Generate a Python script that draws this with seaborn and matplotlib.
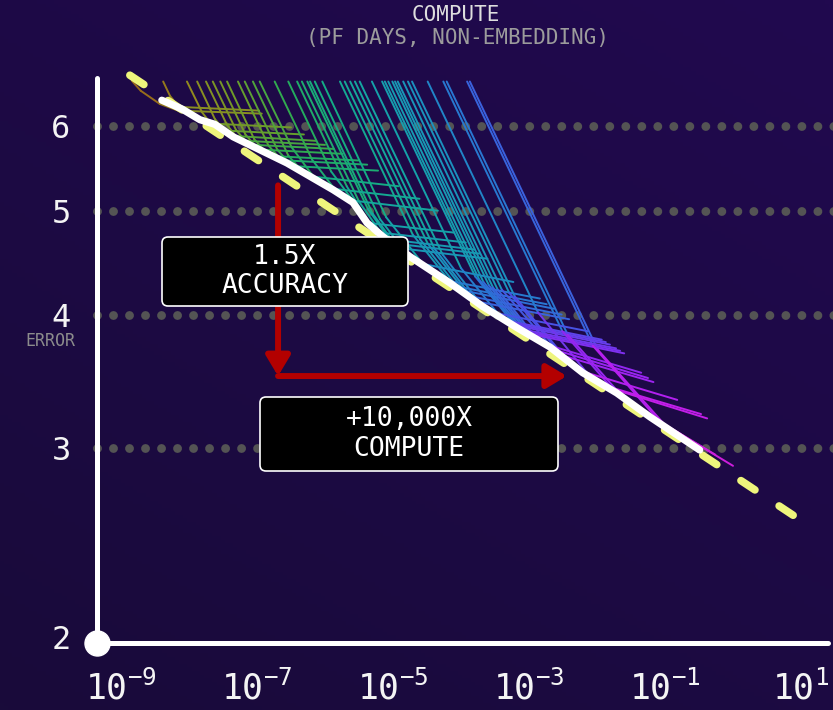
import numpy as np
import pandas as pd
import matplotlib
matplotlib.use("Agg")
import matplotlib.pyplot as plt
import seaborn as sns
from matplotlib.colors import LinearSegmentedColormap
from matplotlib.patches import FancyBboxPatch, FancyArrowPatch
from matplotlib.transforms import IdentityTransform
from matplotlib.ticker import NullLocator

# ---------------- data ----------------
x_tick_values = [1e-9, 1e-7, 1e-5, 1e-3, 1e-1, 1e1]
x_tick_labels = [r"$10^{-9}$", r"$10^{-7}$", r"$10^{-5}$", r"$10^{-3}$", r"$10^{-1}$", r"$10^{1}$"]
y_tick_values = [2, 3, 4, 5, 6]
y_tick_labels = ["2", "3", "4", "5", "6"]
grid_losses = [3, 4, 5, 6]

# white frontier (compute as log10 exponent, loss)
frontier_compute_exp = [-8.40, -8.10, -7.84, -7.62, -7.35, -6.56, -5.88, -5.59, -5.38, -5.15, -4.75,
                        -4.16, -3.68, -3.18, -2.69, -2.21, -1.71, -1.22, -0.49]
frontier_loss = [6.34, 6.22, 6.08, 6.02, 5.86, 5.54, 5.23, 5.09, 4.87, 4.73, 4.53,
                 4.28, 4.07, 3.89, 3.73, 3.53, 3.38, 3.21, 2.99]

# yellow dashed power law
powerlaw_compute = [1.35e-9, 12.6]
powerlaw_loss = [6.69, 2.545]

# learning curves (log10 compute, loss)
curve_compute_exp = [
    [-8.84, -8.71, -8.43, -8.16, -6.93],
    [-8.38, -8.28, -8.15, -6.97],
    [-8.03, -7.81, -7.68, -6.50],
    [-7.88, -7.62, -7.48, -6.31],
    [-7.75, -7.44, -7.31, -6.13],
    [-7.65, -7.31, -7.17, -6.00],
    [-7.54, -7.17, -7.04, -5.87],
    [-7.44, -7.04, -6.90, -5.74],
    [-7.28, -6.83, -6.69, -5.51],
    [-7.18, -6.70, -6.56, -5.38],
    [-7.06, -6.54, -6.40, -5.22],
    [-6.96, -6.49, -6.17, -4.92],
    [-6.74, -6.19, -5.86, -4.61],
    [-6.54, -5.91, -5.59, -4.34],
    [-6.41, -5.68, -5.35, -4.10],
    [-6.34, -5.50, -5.18, -3.93],
    [-6.26, -5.37, -5.05, -3.80],
    [-6.22, -5.30, -4.98, -3.73],
    [-6.15, -5.19, -4.86, -3.61],
    [-6.04, -5.10, -4.56, -3.23],
    [-5.78, -4.71, -4.17, -2.84],
    [-5.71, -4.60, -4.06, -2.74],
    [-5.63, -4.49, -3.95, -2.63],
    [-5.56, -4.39, -3.85, -2.52],
    [-5.49, -4.27, -3.73, -2.41],
    [-5.31, -4.00, -3.46, -2.14],
    [-5.16, -3.79, -3.25, -1.93],
    [-5.12, -3.73, -3.19, -1.87],
    [-5.07, -3.67, -3.13, -1.81],
    [-5.01, -3.59, -3.05, -1.72],
    [-4.97, -3.53, -2.99, -1.66],
    [-4.93, -3.46, -2.93, -1.60],
    [-4.85, -3.40, -2.68, -1.35],
    [-4.78, -3.29, -2.57, -1.25],
    [-4.72, -3.21, -2.49, -1.17],
    [-4.49, -2.87, -2.15, -0.82],
    [-4.26, -2.51, -1.79, -0.47],
    [-4.21, -2.43, -1.71, -0.38],
    [-3.91, -2.06, -1.08, -0.26],
    [-3.87, -1.99, -1.01, 0.00],
]
curve_loss = [
    [6.61, 6.47, 6.29, 6.20, 6.16],
    [6.60, 6.40, 6.25, 6.20],
    [6.60, 6.18, 6.03, 5.98],
    [6.60, 6.09, 5.94, 5.89],
    [6.60, 6.01, 5.87, 5.81],
    [6.60, 5.95, 5.81, 5.76],
    [6.60, 5.89, 5.76, 5.71],
    [6.60, 5.83, 5.70, 5.65],
    [6.60, 5.75, 5.62, 5.57],
    [6.60, 5.70, 5.57, 5.52],
    [6.60, 5.63, 5.50, 5.45],
    [6.60, 5.73, 5.38, 5.27],
    [6.60, 5.58, 5.24, 5.13],
    [6.60, 5.44, 5.11, 5.00],
    [6.60, 5.27, 4.87, 4.77],
    [6.60, 5.10, 4.77, 4.67],
    [6.60, 5.02, 4.70, 4.60],
    [6.60, 4.97, 4.66, 4.56],
    [6.60, 4.91, 4.61, 4.51],
    [6.60, 4.93, 4.46, 4.29],
    [6.60, 4.75, 4.30, 4.14],
    [6.60, 4.70, 4.25, 4.09],
    [6.60, 4.66, 4.21, 4.05],
    [6.60, 4.61, 4.16, 4.00],
    [6.60, 4.55, 4.11, 3.96],
    [6.60, 4.42, 4.01, 3.86],
    [6.60, 4.34, 3.94, 3.79],
    [6.60, 4.31, 3.92, 3.77],
    [6.60, 4.29, 3.90, 3.75],
    [6.60, 4.26, 3.87, 3.72],
    [6.60, 4.24, 3.85, 3.70],
    [6.60, 4.22, 3.83, 3.68],
    [6.60, 4.22, 3.74, 3.53],
    [6.60, 4.19, 3.70, 3.49],
    [6.60, 4.16, 3.66, 3.46],
    [6.60, 4.02, 3.53, 3.33],
    [6.60, 3.86, 3.42, 3.23],
    [6.60, 3.83, 3.40, 3.20],
    [6.60, 3.74, 3.18, 2.96],
    [6.60, 3.71, 3.16, 2.89],
]

# red annotation arrows
arrow_compute = [2.04e-7, 3.6e-3]
arrow_loss = [5.28, 3.505]

title_text = "COMPUTE"
subtitle_text = "(PF DAYS, NON-EMBEDDING)"
ylabel_text = "ERROR"
box1_text = "1.5X\nACCURACY"
box2_text = "+10,000X\nCOMPUTE"

# ---------------- style ----------------
sns.set_theme(style="white")
plt.rcParams["font.family"] = ["DejaVu Sans Mono", "DejaVu Sans"]
plt.rcParams["mathtext.fontset"] = "custom"
plt.rcParams["mathtext.rm"] = "DejaVu Sans Mono"
plt.rcParams["mathtext.it"] = "DejaVu Sans Mono"
plt.rcParams["mathtext.bf"] = "DejaVu Sans Mono"
plt.rcParams["mathtext.sf"] = "DejaVu Sans Mono"

W, H = 833, 710
fig = plt.figure(figsize=(W / 100, H / 100), dpi=100)
fig.patch.set_facecolor("#1d0a46")

# background gradient
bg = fig.add_axes([0, 0, 1, 1], zorder=-10)
gx = np.linspace(0, 1, 200)
gy = np.linspace(0, 1, 200)
G = gx[None, :] * 0.4 + gy[:, None] * 0.6
bg_cmap = LinearSegmentedColormap.from_list("bg", ["#190b3a", "#21094f"])
bg.imshow(G, origin="lower", cmap=bg_cmap, aspect="auto", extent=[0, 1, 0, 1])
bg.axis("off")

ax = fig.add_axes([97 / W, (H - 643) / H, (828 - 97) / W, (643 - 78) / H])
ax.set_facecolor("none")
ax.set_xscale("log")
ax.set_yscale("log")

x_lo, x_hi = 10 ** -9.353, 10 ** 1.397
y_lo, y_hi = 1.975, 6.65

# dotted horizontal guides
for L in grid_losses:
    ax.axhline(L, xmin=0.0, xmax=1.01, color="#545454", lw=6.4,
               linestyle=(0, (0.001, 1.8)), dash_capstyle="round", zorder=1,
               clip_on=False)

# learning curves, split into segments coloured by position
rows = []
for i, (cexp, loss) in enumerate(zip(curve_compute_exp, curve_loss)):
    for j in range(len(cexp) - 1):
        pos = 0.7 * cexp[j] + 0.3 * cexp[j + 1]
        for k in (j, j + 1):
            rows.append({"seg": f"{i}_{j}", "compute": 10 ** cexp[k],
                         "loss": loss[k], "pos": pos})
curves_df = pd.DataFrame(rows)

stops = [(-8.8, "#98661a"), (-8.0, "#938a1e"), (-7.2, "#6a9e2a"), (-6.5, "#28ac55"),
         (-5.8, "#14ac84"), (-5.0, "#14a4a6"), (-4.3, "#1a92bc"), (-3.6, "#2a74d4"),
         (-3.0, "#4c4ee8"), (-2.4, "#8a28f2"), (-1.6, "#bd1eee"), (-0.4, "#d21ed6")]
lo, hi = stops[0][0], stops[-1][0]
curve_cmap = LinearSegmentedColormap.from_list(
    "curves", [((v - lo) / (hi - lo), c) for v, c in stops])

sns.lineplot(data=curves_df, x="compute", y="loss", hue="pos", units="seg",
             estimator=None, sort=False, palette=curve_cmap, hue_norm=(lo, hi),
             legend=False, linewidth=1.4, ax=ax, zorder=2,
             solid_capstyle="round")

# power law (yellow dashed)
sns.lineplot(x=powerlaw_compute, y=powerlaw_loss, color="#eef57c", linewidth=5.5,
             ax=ax, zorder=3, sort=False, estimator=None)
pl = ax.lines[-1]
pl.set_dashes([2.2, 3.8])
pl.set_dash_capstyle("round")
pl.set_clip_on(False)

# frontier (white)
sns.lineplot(x=[10 ** e for e in frontier_compute_exp], y=frontier_loss, color="white",
             linewidth=5.2, ax=ax, zorder=4, sort=False, estimator=None,
             solid_capstyle="round", solid_joinstyle="round")

# red arrows
astyle = "-|>,head_length=0.75,head_width=0.45"
ax.add_patch(FancyArrowPatch((arrow_compute[0], arrow_loss[0]), (arrow_compute[0], arrow_loss[1]),
                             arrowstyle=astyle, mutation_scale=16, color="#b30000",
                             lw=4.3, shrinkA=0, shrinkB=0, zorder=5))
ax.add_patch(FancyArrowPatch((arrow_compute[0], arrow_loss[1]), (arrow_compute[1], arrow_loss[1]),
                             arrowstyle=astyle, mutation_scale=16, color="#b30000",
                             lw=4.3, shrinkA=0, shrinkB=0, zorder=5))

# origin dot
ax.plot([x_lo], [y_lo], "o", ms=18, color="white", clip_on=False, zorder=10)

ax.set_xlim(x_lo, x_hi)
ax.set_ylim(y_lo, y_hi)
ax.set_xticks(x_tick_values)
ax.set_xticklabels(x_tick_labels)
ax.set_yticks(y_tick_values)
ax.set_yticklabels(y_tick_labels)
ax.xaxis.set_minor_locator(NullLocator())
ax.yaxis.set_minor_locator(NullLocator())
ax.tick_params(axis="x", length=0, pad=20, labelsize=25, labelcolor="#f4f4f4")
ax.tick_params(axis="y", length=0, pad=19, labelsize=23, labelcolor="#f4f4f4")
ax.set_xlabel("")
ax.set_ylabel("")
ax.grid(False)
for s in ["top", "right"]:
    ax.spines[s].set_visible(False)
for s in ["left", "bottom"]:
    ax.spines[s].set_color("white")
    ax.spines[s].set_linewidth(3.6)
    ax.spines[s].set_capstyle("round")
    ax.spines[s].set_zorder(8)

# titles
fig.text(456 / W, 1 - 15 / H, title_text, ha="center", va="center",
         fontsize=15, color="#dedede")
fig.text(458 / W, 1 - 38 / H, subtitle_text, ha="center", va="center",
         fontsize=15, color="#9c9c9c")
fig.text(50 / W, 1 - 341 / H, ylabel_text, ha="center", va="center",
         fontsize=12, color="#8c8c8c")

# annotation boxes
for (x0, y0, w, h), txt in [((162, H - 306, 246, 69), box1_text),
                            ((260, H - 471, 298, 74), box2_text)]:
    p = FancyBboxPatch((x0, y0), w, h, boxstyle="round,pad=0,rounding_size=6",
                       transform=IdentityTransform(), fc="black", ec="white",
                       lw=1.2, zorder=6)
    fig.add_artist(p)
    fig.text((x0 + w / 2) / W, (y0 + h / 2) / H, txt, ha="center", va="center",
             multialignment="center", fontsize=19, color="white",
             linespacing=1.15, zorder=7)

fig.savefig("out.png", dpi=100, facecolor=fig.get_facecolor())
